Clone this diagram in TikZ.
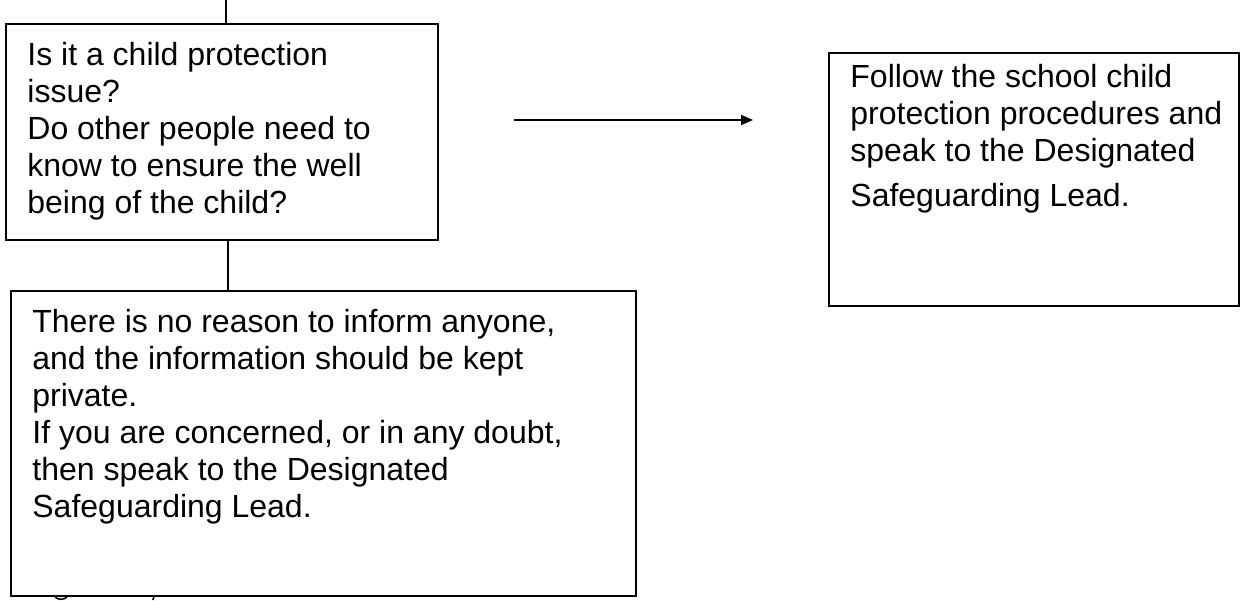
\documentclass[tikz,border=0pt]{standalone}
\usepackage{fontspec}
\setmainfont{Liberation Sans}
\usetikzlibrary{arrows.meta}

\begin{document}
\begin{tikzpicture}[x=0.5pt, y=-0.5pt,
  every node/.style={font=\fontsize{16}{18.5}\selectfont, text=black},
  flowbox/.style={rectangle, draw=black, line width=0.9pt, inner sep=0pt, anchor=north west},
  boxtext/.style={inner sep=0pt, anchor=north west, align=left},
  flowline/.style={draw=black, line width=0.9pt},
]
\useasboundingbox (0,0) rectangle (1248,600);

% Question box
\node[flowbox, minimum width=216pt, minimum height=108pt] at (5,23) (question) {};
\node[boxtext] at (27,42) (questiontext) {
  Is it a child protection\\
  issue?\\
  Do other people need to\\
  know to ensure the well\\
  being of the child?
};

% Child protection box
\node[flowbox, minimum width=205pt, minimum height=126.5pt] at (828,52) (protect) {};
\node[boxtext] at (850,64) (protecttext) {
  Follow the school child\\
  protection procedures and\\
  speak to the Designated\\[4pt]
  Safeguarding Lead.
};

% Keep private box
\node[flowbox, minimum width=312.5pt, minimum height=152.5pt] at (10,290) (private) {};
\node[boxtext] at (32,309) (privatetext) {
  There is no reason to inform anyone,\\
  and the information should be kept\\
  private.\\
  If you are concerned, or in any doubt,\\
  then speak to the Designated\\
  Safeguarding Lead.
};

% Connectors
\coordinate (entry) at (226,0);
\coordinate (yesstart) at (514,120);
\coordinate (yesend) at (753,120);
\draw[flowline] (entry) -- (entry |- question.north);
\draw[flowline] ([xshift=3pt]question.south) -- ([xshift=3pt]question.south |- private.north);
\draw[flowline, -{Triangle[length=6pt, width=5pt]}] (yesstart) -- (yesend);

% Text showing under the lower box
\draw[line width=0.8pt] (55,597) .. controls (58,600) and (64,600) .. (67,597);
\draw[line width=0.8pt] (154,596) -- (153,600);

\end{tikzpicture}
\end{document}
